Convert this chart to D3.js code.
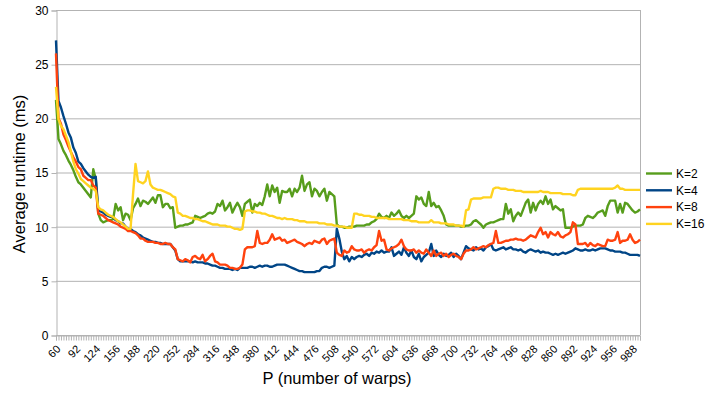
<!DOCTYPE html>
<html>
<head>
<meta charset="utf-8">
<script src="https://cdn.jsdelivr.net/npm/d3@7"></script>
<style>
  body { margin: 0; background: #fff; }
  text { font-family: "Liberation Sans", Arial, sans-serif; fill: #000; }
</style>
</head>
<body>
<svg id="chart" width="707" height="394"></svg>
<script>
// P values (number of warps), one per category
var categories = [
  60,64,68,72,76,80,84,88,92,96,
  100,104,108,112,116,120,124,128,132,136,
  140,144,148,152,156,160,164,168,172,176,
  180,184,188,192,196,200,204,208,212,216,
  220,224,228,232,236,240,244,248,252,256,
  260,264,268,272,276,280,284,288,292,296,
  300,304,308,312,316,320,324,328,332,336,
  340,344,348,352,356,360,364,368,372,376,
  380,384,388,392,396,400,404,408,412,416,
  420,424,428,432,436,440,444,448,452,456,
  460,464,468,472,476,480,484,488,492,496,
  500,504,508,512,516,520,524,528,532,536,
  540,544,548,552,556,560,564,568,572,576,
  580,584,588,592,596,600,604,608,612,616,
  620,624,628,632,636,640,644,648,652,656,
  660,664,668,672,676,680,684,688,692,696,
  700,704,708,712,716,720,724,728,732,736,
  740,744,748,752,756,760,764,768,772,776,
  780,784,788,792,796,800,804,808,812,816,
  820,824,828,832,836,840,844,848,852,856,
  860,864,868,872,876,880,884,888,892,896,
  900,904,908,912,916,920,924,928,932,936,
  940,944,948,952,956,960,964,968,972,976,
  980,984,988,992,996,1000
]

var tickLabels = [60,92,124,156,188,220,252,284,316,348,380,412,444,476,508,
  540,572,604,636,668,700,732,764,796,828,860,892,924,956,988]

var yTicks = [0,5,10,15,20,25,30]

var k2 = [
  21.7,18.1,17.6,17.0,16.6,16.1,15.7,15.2,14.6,14.1,
  13.9,13.6,13.3,13.0,12.7,15.3,14.4,11.2,10.6,10.4,
  10.5,10.6,10.6,10.7,12.1,11.5,11.8,10.6,11.2,11.1,
  10.6,11.7,12.1,12.6,11.9,12.4,12.3,12.1,12.4,12.7,
  12.2,12.9,12.9,11.8,12.1,12.1,11.7,11.8,9.9,10.0,
  10.1,10.1,10.2,10.2,10.3,10.4,11.0,10.9,10.8,10.9,
  11.0,11.2,11.3,11.2,11.4,12.1,11.9,12.4,11.5,11.8,
  12.2,11.3,11.8,12.2,11.8,11.0,12.1,12.3,12.5,11.3,
  12.1,11.9,12.2,12.0,12.8,13.9,12.8,13.8,13.2,13.6,
  12.2,13.3,13.2,13.2,13.5,12.8,13.5,13.2,13.6,14.7,
  13.3,13.9,14.1,12.8,13.5,13.3,12.8,13.2,13.5,12.4,
  13.2,13.0,12.8,10.2,10.0,10.0,9.9,9.9,10.0,10.0,
  10.0,10.1,10.1,10.1,10.1,10.2,10.2,10.4,10.5,10.7,
  11.2,10.9,10.8,11.0,10.8,11.3,11.0,11.2,11.5,11.0,
  10.8,11.0,10.8,11.0,11.2,12.8,12.5,12.7,12.1,11.9,
  13.2,11.9,12.2,11.8,11.9,11.5,11.0,10.2,10.1,10.1,
  10.1,10.1,10.1,10.0,10.0,10.1,10.1,10.2,10.5,10.6,
  10.4,10.2,9.9,10.2,10.3,10.4,10.4,10.5,10.6,10.7,
  10.7,12.1,11.2,11.6,10.5,11.0,11.3,11.0,11.6,12.2,
  12.5,11.3,12.2,11.5,12.1,12.4,12.1,12.8,12.1,12.5,
  11.6,11.9,11.7,11.5,11.6,9.9,9.9,9.9,10.0,10.1,
  10.1,10.1,10.2,10.8,11.0,10.9,10.8,11.0,11.3,11.4,
  11.5,11.0,11.9,12.4,12.4,12.4,11.3,12.1,11.3,12.2,
  12.1,11.8,11.5,11.3,11.4,11.6
]

var k4 = [
  27.2,21.6,21.0,20.2,19.5,18.7,18.2,17.3,16.8,16.0,
  15.8,15.4,15.1,14.8,14.6,14.5,14.6,11.5,11.4,11.3,
  11.1,11.0,10.9,10.9,10.6,10.5,10.3,10.3,10.0,9.8,
  9.8,9.6,9.5,9.3,9.2,9.0,8.9,8.8,8.7,8.6,
  8.6,8.5,8.5,8.4,8.4,8.4,8.4,8.1,7.8,7.0,
  6.8,6.8,6.8,6.8,6.8,6.7,6.8,6.7,6.7,6.7,
  6.6,6.6,6.5,6.4,6.4,6.3,6.2,6.2,6.1,6.1,
  6.1,6.0,6.1,6.0,6.2,6.2,6.2,6.2,6.3,6.3,
  6.2,6.3,6.4,6.3,6.4,6.4,6.3,6.3,6.4,6.5,
  6.5,6.5,6.5,6.4,6.3,6.2,6.1,6.0,5.9,5.9,
  5.8,5.8,5.8,5.8,5.8,5.9,5.9,6.2,6.3,6.3,
  6.2,6.3,6.4,9.8,8.9,7.7,7.0,7.3,6.8,7.2,
  7.0,7.2,7.3,7.2,7.4,7.5,7.3,7.6,7.5,7.7,
  7.6,7.8,7.6,7.7,7.7,8.1,7.3,7.5,7.7,7.4,
  8.1,7.6,7.3,7.8,7.2,7.0,7.5,6.8,7.2,7.4,
  7.6,8.4,7.3,7.8,7.4,7.2,7.5,7.3,7.4,7.6,
  7.2,7.5,7.3,7.0,7.6,8.2,8.0,7.9,7.8,8.1,
  7.9,8.0,7.8,8.1,8.2,8.4,7.9,7.8,7.9,8.0,
  8.1,7.9,8.0,8.1,7.9,7.9,7.8,7.9,7.7,7.6,
  7.8,7.9,7.8,7.7,7.8,7.6,7.7,7.6,7.6,7.5,
  7.4,7.5,7.4,7.5,7.6,7.5,7.6,7.7,7.8,8.0,
  7.9,7.8,7.8,7.9,7.8,7.8,7.9,7.8,7.9,8.0,
  8.0,8.0,7.9,7.8,7.8,7.7,7.7,7.7,7.6,7.6,
  7.5,7.4,7.4,7.4,7.4,7.3
]

var k8 = [
  26.0,20.0,19.5,18.5,18.0,17.4,16.9,16.4,16.0,15.5,
  15.3,14.7,14.5,14.3,14.3,13.8,13.6,11.2,11.1,11.0,
  10.8,10.6,10.5,10.4,10.3,10.2,10.0,9.9,9.8,9.6,
  9.6,9.5,9.4,9.2,8.9,8.9,8.7,8.6,8.6,8.6,
  8.5,8.5,8.4,8.4,8.5,8.4,8.4,8.1,7.9,7.0,
  6.9,6.8,7.0,6.9,6.7,7.2,7.3,7.1,7.0,7.4,
  6.8,7.0,7.3,7.5,6.8,6.7,6.5,6.5,6.5,6.4,
  6.2,6.2,6.1,6.1,6.2,6.5,7.9,8.1,8.1,8.1,
  8.2,9.6,8.5,8.4,8.5,8.5,8.8,9.3,8.8,8.9,
  9.0,8.7,8.8,8.5,8.6,8.7,8.8,8.6,8.5,8.4,
  8.2,8.4,8.5,8.4,8.7,8.6,8.5,8.8,8.9,8.4,
  8.7,8.8,8.9,7.6,7.4,7.3,7.8,7.6,7.7,8.2,
  7.9,7.8,7.8,7.9,7.6,7.8,7.9,7.8,8.1,8.3,
  9.6,8.7,8.8,7.9,7.8,8.0,8.1,8.2,8.4,8.8,
  8.2,7.9,7.8,7.8,7.9,7.6,7.8,7.6,7.5,7.9,
  7.6,7.3,7.8,7.3,7.5,7.6,7.3,7.5,7.2,7.4,
  7.5,7.3,7.2,7.0,7.5,7.8,7.8,7.9,8.1,7.9,
  8.0,8.1,8.2,8.1,8.3,8.4,8.5,9.6,8.5,8.5,
  8.6,8.7,8.7,8.8,8.8,8.9,8.8,8.8,8.7,8.8,
  9.0,9.2,9.1,9.0,9.5,9.9,9.3,9.5,9.0,9.5,
  9.3,9.2,9.5,9.1,9.0,9.2,9.3,9.5,10.4,10.2,
  8.4,8.4,8.4,8.5,8.2,8.5,8.3,8.2,8.4,8.3,
  8.2,8.2,8.8,8.7,8.7,8.8,9.5,8.5,8.7,8.7,
  8.8,9.3,8.8,8.5,8.6,8.8
]

var k16 = [
  22.9,19.9,19.3,19.0,18.4,17.8,16.9,16.0,15.3,14.9,
  14.4,14.2,14.0,13.8,13.6,13.5,13.3,11.8,11.6,11.5,
  11.3,11.1,11.0,10.9,10.7,10.5,10.4,10.2,10.0,9.8,
  9.8,13.0,15.8,14.2,14.1,14.0,14.2,15.1,13.9,13.6,
  13.5,13.4,13.4,13.3,13.2,13.1,13.0,12.8,12.7,11.3,
  11.2,11.0,11.0,10.9,10.8,10.8,10.7,10.7,10.6,10.5,
  10.5,10.4,10.3,10.2,10.2,10.2,10.1,10.1,10.1,10.0,
  10.0,9.9,9.8,9.8,9.7,9.8,11.4,11.5,11.5,11.4,
  11.4,11.3,11.3,11.2,11.2,11.1,11.0,11.0,10.9,10.8,
  10.8,10.7,10.8,10.7,10.7,10.7,10.6,10.6,10.5,10.5,
  10.5,10.4,10.4,10.4,10.4,10.4,10.3,10.3,10.3,10.2,
  10.2,10.2,10.1,10.1,10.0,10.0,10.0,9.9,9.9,9.9,
  11.2,11.2,11.1,11.1,11.0,11.0,11.0,10.9,10.9,10.8,
  10.8,10.8,10.8,10.8,10.7,10.7,10.7,10.7,10.7,10.7,
  10.6,10.6,10.6,10.5,10.5,10.5,10.4,10.4,10.4,10.4,
  10.4,10.6,10.4,10.4,10.4,10.3,10.3,10.3,10.2,10.2,
  10.2,10.1,10.1,10.1,10.0,11.5,11.6,12.5,12.6,12.6,
  12.6,12.6,12.7,12.7,12.7,12.7,13.5,13.6,13.6,13.5,
  13.5,13.5,13.4,13.4,13.4,13.3,13.3,13.3,13.2,13.2,
  13.2,13.2,13.2,13.2,13.2,13.3,13.2,13.2,13.2,13.1,
  13.1,13.1,13.1,13.1,13.0,13.0,13.0,13.0,12.9,12.9,
  13.4,13.5,13.5,13.5,13.5,13.5,13.5,13.5,13.5,13.5,
  13.5,13.5,13.5,13.5,13.5,13.6,13.8,13.5,13.5,13.4,
  13.4,13.4,13.4,13.4,13.4,13.4
]

var seriesNames = ["K=2", "K=4", "K=8", "K=16"]
var seriesValues = [k2, k4, k8, k16]
var seriesColors = ["#579d1c", "#004586", "#ff420e", "#ffd320"]

var plotLeft = 56, plotRight = 640, plotTop = 10, plotBottom = 335
var gridColor = "#b3b3b3"

var svg = d3.select("#chart")

var x = d3.scalePoint().domain(categories).range([plotLeft, plotRight])
var y = d3.scaleLinear().domain([0, 30]).range([plotBottom, plotTop])

// horizontal grid lines
svg.append("g").selectAll("line")
    .data(yTicks)
  .enter().append("line")
    .attr("x1", plotLeft).attr("x2", plotRight)
    .attr("y1", function(d) { return y(d) + 0.5 })
    .attr("y2", function(d) { return y(d) + 0.5 })
    .attr("stroke", gridColor).attr("stroke-width", 1)

// right edge of the plot wall
svg.append("line")
  .attr("x1", plotRight + 0.5).attr("x2", plotRight + 0.5)
  .attr("y1", plotTop).attr("y2", plotBottom)
  .attr("stroke", gridColor)

// y axis
var yAxis = svg.append("g")
  .attr("transform", "translate(" + (plotLeft + 0.5) + ",0.5)")
  .call(d3.axisLeft(y).tickValues(yTicks).tickSize(5).tickPadding(3))
yAxis.select(".domain").attr("stroke", gridColor)
yAxis.selectAll(".tick line").attr("stroke", gridColor)
yAxis.selectAll("text").style("font-size", "12px").attr("fill", "#000")

// x axis: a small tick per category, labels on every 8th
var xAxis = svg.append("g")
  .attr("transform", "translate(0," + (plotBottom + 0.5) + ")")
  .call(d3.axisBottom(x).tickSize(5).tickFormat(""))
xAxis.select(".domain").attr("stroke", gridColor)
xAxis.selectAll(".tick line").attr("stroke", gridColor)

svg.append("g").selectAll("text")
    .data(tickLabels)
  .enter().append("text")
    .attr("transform", function(d) { return "translate(" + (x(d) + 2.5) + "," + (plotBottom + 12) + ") rotate(-45)" })
    .attr("text-anchor", "end")
    .attr("dy", "0.35em")
    .style("font-size", "11px")
    .text(function(d) { return d })

// series lines
var line = function(vals) {
  return d3.line()
    .x(function(d, i) { return x(categories[i]) })
    .y(function(d) { return y(d) })(vals)
}

svg.append("g").selectAll("path")
    .data(seriesValues)
  .enter().append("path")
    .attr("d", function(d) { return line(d) })
    .attr("fill", "none")
    .attr("stroke", function(d, i) { return seriesColors[i] })
    .attr("stroke-width", 2.4)
    .attr("stroke-linejoin", "round")

// axis titles
svg.append("text")
  .attr("x", 337).attr("y", 384)
  .attr("text-anchor", "middle")
  .style("font-size", "16.5px")
  .text("P (number of warps)")

svg.append("text")
  .attr("transform", "translate(25,174) rotate(-90)")
  .attr("text-anchor", "middle")
  .style("font-size", "16.5px")
  .text("Average runtime (ms)")

// legend
var legend = svg.append("g").selectAll("g")
    .data(seriesNames)
  .enter().append("g")
    .attr("transform", function(d, i) { return "translate(646," + (173.5 + i * 16.8) + ")" })

legend.append("line")
  .attr("x1", 0).attr("x2", 26)
  .attr("stroke", function(d, i) { return seriesColors[i] })
  .attr("stroke-width", 2.4)

legend.append("text")
  .attr("x", 30).attr("dy", "0.35em")
  .style("font-size", "12px")
  .text(function(d) { return d })
</script>
</body>
</html>
